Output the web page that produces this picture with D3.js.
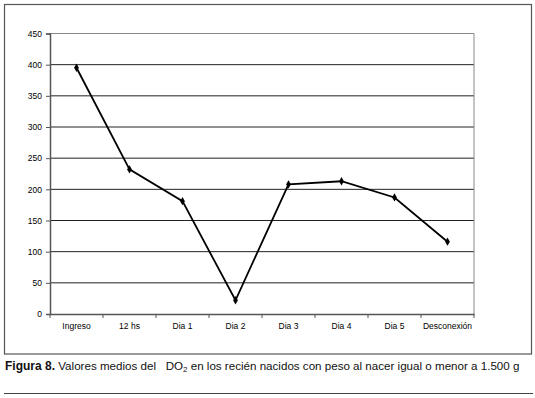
<!DOCTYPE html>
<html><head><meta charset="utf-8">
<script src="https://cdn.jsdelivr.net/npm/d3@7"></script>
<style>body{margin:0;background:#fff;} svg{display:block;}</style>
</head><body>
<svg id="c" width="535" height="398"></svg>
<script>
const categories = ["Ingreso","12 hs","Dia 1","Dia 2","Dia 3","Dia 4","Dia 5","Desconexión"];
const values = [395, 232, 181, 22, 208, 213, 187, 116];
const yTicks = [0,50,100,150,200,250,300,350,400,450];

const svg = d3.select("#c");
const L = 50, R = 474, T = 33.5, B = 314;
const x = d3.scaleBand().domain(categories).range([L, R]);
const y = d3.scaleLinear().domain([0, 450]).range([B, T]);
const FONT = "Liberation Sans, Arial, sans-serif";

// outer frame
svg.append("rect").attr("x",4.5).attr("y",4.5).attr("width",527).attr("height",349.5)
  .attr("fill","none").attr("stroke","#555").attr("stroke-width",1.2);

// gridlines
svg.append("g").selectAll("line").data(yTicks.filter(d=>d>0)).join("line")
  .attr("x1",L).attr("x2",R).attr("y1",d=>y(d)).attr("y2",d=>y(d))
  .attr("stroke","#222").attr("stroke-width",1);

// plot border right/top
svg.append("line").attr("x1",R).attr("x2",R).attr("y1",T).attr("y2",B).attr("stroke","#888").attr("stroke-width",1);
svg.append("line").attr("x1",L).attr("x2",R).attr("y1",T).attr("y2",T).attr("stroke","#888").attr("stroke-width",1);

// y axis
const yAxis = d3.axisLeft(y).tickValues(yTicks).tickSize(4).tickPadding(4);
const gy = svg.append("g").attr("transform",`translate(${L},0)`).call(yAxis);
gy.select(".domain").attr("stroke","#555").attr("stroke-width",1.5);
gy.selectAll(".tick line").attr("stroke","#555");
gy.selectAll("text").attr("font-family",FONT).attr("font-size",8.5).attr("fill","#000");

// x axis
const xAxis = d3.axisBottom(x).tickSize(0).tickPadding(9);
const gx = svg.append("g").attr("transform",`translate(0,${B})`).call(xAxis);
gx.select(".domain").attr("stroke","#555").attr("stroke-width",1.5);
gx.selectAll("text").attr("font-family",FONT).attr("font-size",8.5).attr("fill","#000");
// boundary ticks between categories
svg.append("g").selectAll("line").data(categories.map((c,i)=>i).concat([categories.length])).join("line")
  .attr("x1",i=>L + i*x.step()).attr("x2",i=>L + i*x.step())
  .attr("y1",B).attr("y2",B+4).attr("stroke","#555");

// line
const line = d3.line().x((d,i)=>x(categories[i])+x.bandwidth()/2).y(d=>y(d));
svg.append("path").datum(values).attr("d",line).attr("fill","none")
  .attr("stroke","#000").attr("stroke-width",1.8).attr("stroke-linejoin","miter");
svg.append("g").selectAll("path").data(values).join("path")
  .attr("d",d3.symbol().type(d3.symbolDiamond).size(20))
  .attr("transform",(d,i)=>`translate(${x(categories[i])+x.bandwidth()/2},${y(d)})`)
  .attr("fill","#000");

// caption
const cap = svg.append("text").attr("x",5).attr("y",370)
  .attr("font-family",FONT).attr("font-size",11.6).attr("fill","#111");
cap.append("tspan").attr("font-weight","bold").attr("font-size",12).text("Figura 8.");
cap.append("tspan").text(" Valores medios del\u00a0\u00a0\u00a0DO");
cap.append("tspan").attr("font-size",8).attr("dy",2).text("2");
cap.append("tspan").attr("dy",-2).text(" en los recién nacidos con peso al nacer igual o menor a 1.500 g");

svg.append("line").attr("x1",4).attr("x2",533).attr("y1",393.5).attr("y2",393.5).attr("stroke","#444").attr("stroke-width",1.2);
</script>
</body></html>
